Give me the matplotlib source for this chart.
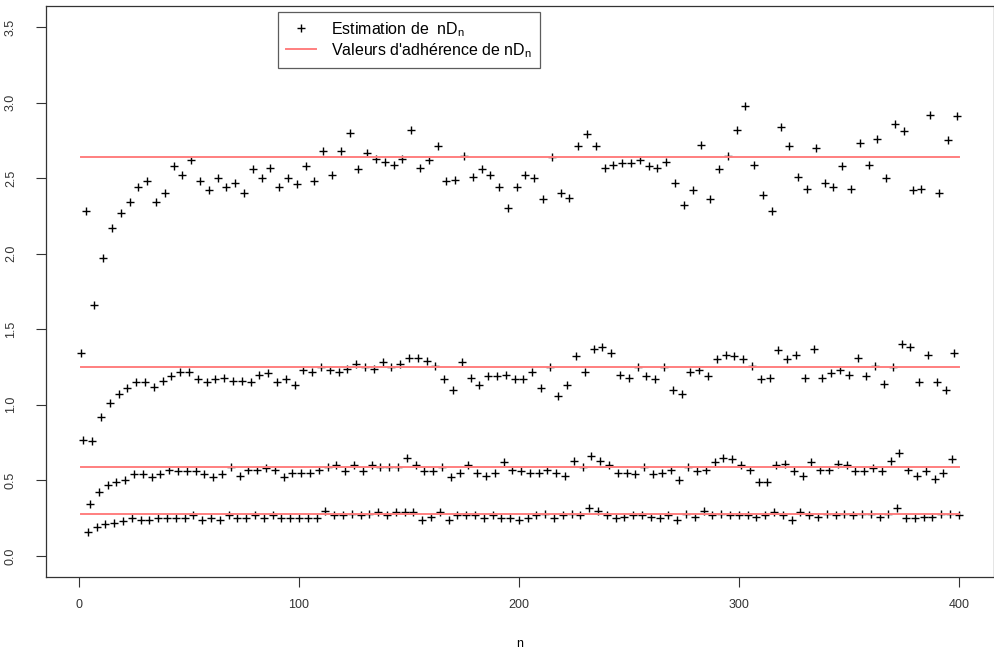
import numpy as np
import matplotlib.pyplot as plt

plt.rcParams['font.family'] = ['Liberation Sans', 'DejaVu Sans']

# valeur pour n = 1
v_n1 = 1.34

# n = 3, 7, 11, ..., 399  (bande haute)
bande_haute = [
    2.28, 1.66, 1.97, 2.17, 2.27, 2.34, 2.44, 2.48, 2.34, 2.40,
    2.58, 2.52, 2.62, 2.48, 2.42, 2.50, 2.44, 2.47, 2.40, 2.56,
    2.50, 2.57, 2.44, 2.50, 2.46,
    2.58, 2.48, 2.68, 2.52, 2.68, 2.80, 2.56, 2.67, 2.63, 2.61,
    2.59, 2.63, 2.82, 2.57, 2.62, 2.71, 2.48, 2.49, 2.65, 2.51,
    2.56, 2.52, 2.44, 2.30, 2.44,
    2.52, 2.50, 2.36, 2.64, 2.40, 2.37, 2.71, 2.79, 2.71, 2.57,
    2.59, 2.60, 2.60, 2.62, 2.58, 2.57, 2.61, 2.47, 2.32, 2.42,
    2.72, 2.36, 2.56, 2.65, 2.82,
    2.98, 2.59, 2.39, 2.28, 2.84, 2.71, 2.51, 2.43, 2.70, 2.47,
    2.44, 2.58, 2.43, 2.73, 2.59, 2.76, 2.50, 2.86, 2.81, 2.42,
    2.43, 2.92, 2.40, 2.75, 2.91,
]

# n = 2, 6, 10, ..., 398
bande_125 = [
    0.77, 0.76, 0.92, 1.01, 1.07, 1.11, 1.15, 1.15, 1.12, 1.16,
    1.19, 1.22, 1.22, 1.17, 1.15, 1.17, 1.18, 1.16, 1.16, 1.15,
    1.20, 1.21, 1.15, 1.17, 1.13,
    1.23, 1.22, 1.25, 1.23, 1.22, 1.24, 1.27, 1.25, 1.24, 1.28,
    1.25, 1.27, 1.31, 1.31, 1.29, 1.26, 1.17, 1.10, 1.28, 1.18,
    1.13, 1.19, 1.19, 1.20, 1.17,
    1.17, 1.22, 1.11, 1.25, 1.06, 1.13, 1.32, 1.22, 1.37, 1.38,
    1.34, 1.20, 1.18, 1.25, 1.19, 1.17, 1.25, 1.10, 1.07, 1.22,
    1.23, 1.19, 1.30, 1.33, 1.32,
    1.30, 1.26, 1.17, 1.18, 1.36, 1.30, 1.33, 1.18, 1.37, 1.18,
    1.21, 1.23, 1.20, 1.31, 1.19, 1.26, 1.14, 1.25, 1.40, 1.38,
    1.15, 1.33, 1.15, 1.10, 1.34,
]

# n = 5, 9, 13, ..., 397
bande_059 = [
    0.34, 0.42, 0.47, 0.49, 0.50, 0.54, 0.54, 0.52, 0.54, 0.57,
    0.56, 0.56, 0.56, 0.54, 0.52, 0.54, 0.59, 0.53, 0.57, 0.57,
    0.58, 0.57, 0.52, 0.55,
    0.55, 0.55, 0.57, 0.59, 0.60, 0.56, 0.60, 0.56, 0.60, 0.59,
    0.59, 0.59, 0.65, 0.60, 0.56, 0.56, 0.59, 0.52, 0.55, 0.60,
    0.55, 0.53, 0.55, 0.62, 0.57,
    0.56, 0.55, 0.55, 0.57, 0.55, 0.53, 0.63, 0.59, 0.66, 0.63,
    0.60, 0.55, 0.55, 0.54, 0.59, 0.54, 0.55, 0.57, 0.50, 0.59,
    0.56, 0.57, 0.62, 0.65, 0.64,
    0.60, 0.57, 0.49, 0.49, 0.60, 0.61, 0.56, 0.53, 0.62, 0.57,
    0.57, 0.61, 0.60, 0.56, 0.56, 0.58, 0.56, 0.63, 0.68, 0.57,
    0.53, 0.56, 0.51, 0.55, 0.64,
]

# n = 4, 8, 12, ..., 400
bande_basse = [
    0.16, 0.19, 0.21, 0.22, 0.23, 0.25, 0.24, 0.24, 0.25, 0.25,
    0.25, 0.25, 0.27, 0.24, 0.25, 0.24, 0.27, 0.25, 0.25, 0.27,
    0.25, 0.27, 0.25, 0.25,
    0.25, 0.25, 0.25, 0.30, 0.27, 0.27, 0.28, 0.27, 0.28, 0.29,
    0.27, 0.29, 0.29, 0.29, 0.24, 0.26, 0.29, 0.24, 0.27, 0.27,
    0.27, 0.25, 0.27, 0.25, 0.25,
    0.24, 0.25, 0.27, 0.28, 0.25, 0.27, 0.28, 0.27, 0.32, 0.30,
    0.27, 0.25, 0.26, 0.27, 0.27, 0.26, 0.25, 0.27, 0.24, 0.28,
    0.26, 0.30, 0.27, 0.28, 0.27,
    0.27, 0.27, 0.26, 0.27, 0.29, 0.27, 0.24, 0.29, 0.27, 0.26,
    0.28, 0.27, 0.28, 0.27, 0.28, 0.28, 0.26, 0.28, 0.32, 0.25,
    0.25, 0.26, 0.26, 0.28, 0.28, 0.27,
]

# valeurs d'adhérence
adherence = [2.64, 1.25, 0.59, 0.275]

n_haute = np.arange(3, 400, 4)
n_125 = np.arange(2, 400, 4)
n_059 = np.arange(5, 400, 4)
n_basse = np.arange(4, 401, 4)

n_tous = np.concatenate([[1], n_haute, n_125, n_059, n_basse])
v_tous = np.concatenate([[v_n1], bande_haute, bande_125, bande_059, bande_basse])

fig = plt.figure(figsize=(9.95, 6.55), dpi=100)
ax = fig.add_axes([46 / 995, 78 / 655, 948 / 995, 571 / 655])

ax.plot(n_tous, v_tous, linestyle='none', marker='+', color='black',
        markersize=6, markeredgewidth=1.0, label='Estimation de  nD$_\\mathregular{n}$')
for i, a in enumerate(adherence):
    ax.plot([1, 400], [a, a], color='#ff7f7f', linewidth=1.4,
            label="Valeurs d'adhérence de nD$_\\mathregular{n}$" if i == 0 else None)

ax.set_xlim(-14.96, 415.96)
ax.set_ylim(-0.14, 3.64)
ax.set_xticks([0, 100, 200, 300, 400])
ax.set_yticks([0.0, 0.5, 1.0, 1.5, 2.0, 2.5, 3.0, 3.5])
ax.set_yticklabels(['0.0', '0.5', '1.0', '1.5', '2.0', '2.5', '3.0', '3.5'],
                   rotation=90, va='center')
ax.tick_params(axis='both', direction='out', length=7, width=0.8,
               labelsize=9, colors='#333333')
ax.tick_params(axis='x', pad=9)
ax.tick_params(axis='y', pad=14)
for s in ax.spines.values():
    s.set_color('#333333')
    s.set_linewidth(0.9)

ax.set_xlabel('n', fontsize=9, labelpad=19)

leg = ax.legend(loc='upper left', bbox_to_anchor=(0.2447, 0.9895),
                borderaxespad=0, fancybox=False, fontsize=11.5,
                handlelength=1.9, labelspacing=0.15, borderpad=0.5,
                handletextpad=0.9)
leg.get_frame().set_edgecolor('#333333')
leg.get_frame().set_linewidth(0.9)

fig.savefig('out.png', dpi=100)
